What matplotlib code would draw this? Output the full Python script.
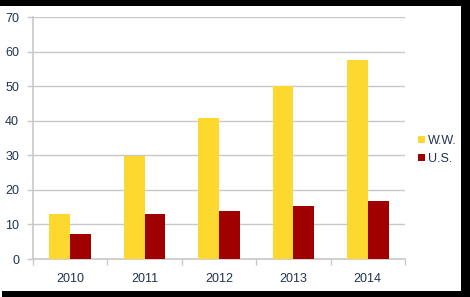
import matplotlib.pyplot as plt
import numpy as np
from matplotlib.patches import Rectangle

years = ["2010", "2011", "2012", "2013", "2014"]
ww = [13, 29.7, 40.8, 50, 57.5]
us = [7.3, 13, 14, 15.4, 16.9]

YELLOW = "#FDD92F"
RED = "#A00000"
TEXT = "#1F3350"
GRID = "#C8C8C8"

plt.rcParams["font.family"] = ["Liberation Sans", "DejaVu Sans"]

fig = plt.figure(figsize=(4.7, 2.97), dpi=100)

# black frame (shadow look): top, right, bottom
for x, y, w, h in [(0, 1 - 6 / 297, 1, 6 / 297),
                   (461 / 470, 0, 9 / 470, 1),
                   (2 / 470, 0, 1, 6 / 297)]:
    fig.patches.append(Rectangle((x, y), w, h, transform=fig.transFigure,
                                 facecolor="black", edgecolor="none", zorder=0))

ax = fig.add_axes([33 / 470, 1 - 259 / 297, 372 / 470, 242 / 297])

x = np.arange(len(years))
width = 0.28
ax.bar(x - width / 2, ww, width, color=YELLOW, label="W.W.", zorder=3)
ax.bar(x + width / 2, us, width, color=RED, label="U.S.", zorder=3)

ax.set_xlim(-0.5, len(years) - 0.5)
ax.set_ylim(0, 70)
ax.set_yticks(range(0, 71, 10))
ax.set_xticks(x)
ax.set_xticklabels(years)
ax.set_xticks(np.arange(-0.5, len(years)), minor=True)
ax.tick_params(axis="x", which="major", length=0, pad=10, labelsize=9, labelcolor=TEXT)
ax.tick_params(axis="x", which="minor", length=4, color=GRID, width=1)
ax.tick_params(axis="y", length=4, color=GRID, width=1, labelsize=9, labelcolor=TEXT, pad=6)

ax.yaxis.grid(True, color=GRID, linewidth=1, zorder=0)
ax.set_axisbelow(True)
for side in ["top", "right"]:
    ax.spines[side].set_visible(False)
for side in ["left", "bottom"]:
    ax.spines[side].set_color(GRID)
    ax.spines[side].set_linewidth(1.2)

leg = fig.legend(loc="center left", bbox_to_anchor=(412 / 470, 1 - 150 / 297),
                 frameon=False, fontsize=9, handlelength=0.5, handleheight=0.5,
                 handletextpad=0.3, labelspacing=0.5, borderpad=0)
for t in leg.get_texts():
    t.set_color(TEXT)

fig.savefig("out.png", dpi=100, facecolor="white")
